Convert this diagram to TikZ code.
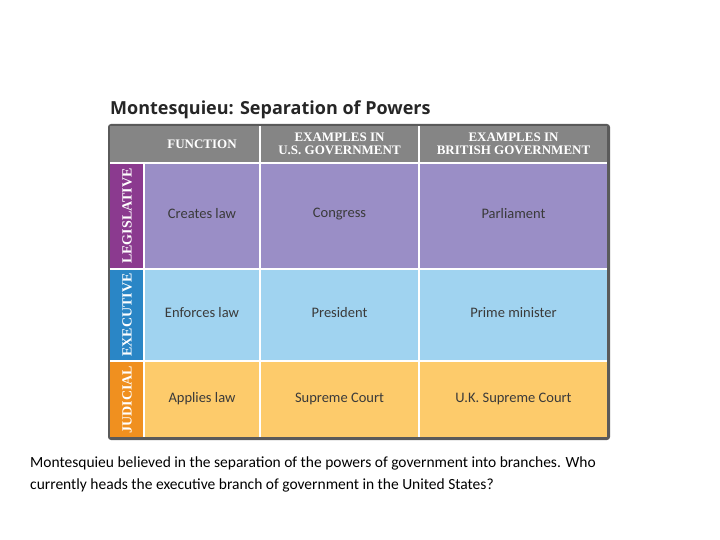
\documentclass[tikz,border=0pt]{standalone}
\usepackage{fontspec}
\setmainfont{Carlito}
\newfontfamily\headfont{Liberation Serif}
\newfontfamily\titlefont{Open Sans}
\definecolor{hdrgray}{HTML}{858585}
\definecolor{edgegray}{HTML}{5A5A5A}
\definecolor{legcell}{HTML}{9A8EC6}
\definecolor{legside}{HTML}{8B3A8F}
\definecolor{execell}{HTML}{A0D3F0}
\definecolor{exeside}{HTML}{2A86C6}
\definecolor{judcell}{HTML}{FDCB6B}
\definecolor{judside}{HTML}{F0901F}
\definecolor{celltext}{HTML}{3A3A3A}

\begin{document}
\begin{tikzpicture}[x=1pt, y=-1pt]
    \tikzset{
        cell/.style={inner sep=0pt, outer sep=0pt, text=celltext, font=\fontsize{14.5}{16}\selectfont},
        head/.style={text=white, align=center, font=\headfont\bfseries\fontsize{13}{13.5}\selectfont},
        side/.style={text=white, rotate=90, font=\headfont\bfseries\fontsize{14}{15}\selectfont}
    }
    \useasboundingbox (0,0) rectangle (720,540);

    \node [anchor=south west, font=\titlefont\bfseries\fontsize{18}{20}\selectfont, text=black!85, inner sep=0pt] (title) at (110,119) {Montesquieu: Separation of Powers};

    % frame and header
    \fill [edgegray, rounded corners=3pt] (108,124) rectangle (610,440);
    \fill [hdrgray] (110,126) rectangle (607,162);
    \fill [white] (259,126) rectangle (261,162);
    \fill [white] (418,126) rectangle (420,162);
    \fill [white] (110,162) rectangle (607,164);

    \node [head] (hfun) at (202,144) {FUNCTION};
    \node [head] (hus) at (339.5,144) {EXAMPLES IN\\U.S. GOVERNMENT};
    \node [head] (hbr) at (513.5,144) {EXAMPLES IN\\BRITISH GOVERNMENT};

    % rows
    \foreach \top/\bot/\cc/\sc/\lab in {164/268/legcell/legside/LEGISLATIVE, 270/360/execell/exeside/EXECUTIVE, 362/437/judcell/judside/JUDICIAL}{
        \fill [white] (110,\top) rectangle (607,\bot);
        \fill [\sc] (110,\top) rectangle (143,\bot);
        \fill [\cc] (145,\top) rectangle (259,\bot);
        \fill [\cc] (261,\top) rectangle (418,\bot);
        \fill [\cc] (420,\top) rectangle (607,\bot);
        \node [side] at (127,{(\top+\bot)/2}) {\lab};
    }
    \fill [white] (110,268) rectangle (607,270);
    \fill [white] (110,360) rectangle (607,362);

    \node [cell] (fleg) at (202,214) {Creates law};
    \node [cell] (uleg) at (339.5,214) {Congress};
    \node [cell] (bleg) at (513.5,214) {Parliament};
    \node [cell] (fexe) at (202,313) {Enforces law};
    \node [cell] (uexe) at (339.5,313) {President};
    \node [cell] (bexe) at (513.5,313) {Prime minister};
    \node [cell] (fjud) at (202,399) {Applies law};
    \node [cell] (ujud) at (339.5,399) {Supreme Court};
    \node [cell] (bjud) at (513.5,399) {U.K. Supreme Court};

    \node [anchor=north west, align=left, inner sep=0pt, font=\fontsize{15.5}{22}\selectfont] (caption) at (30,457) {Montesquieu believed in the separation of the powers of government into branches. Who\\currently heads the executive branch of government in the United States?};
\end{tikzpicture}
\end{document}
